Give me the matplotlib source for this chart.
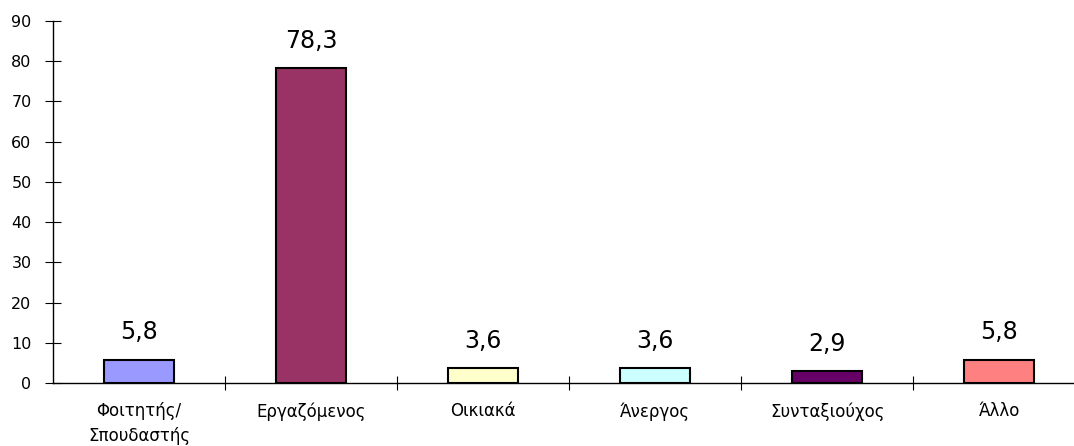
import matplotlib
matplotlib.use('Agg')
import matplotlib.pyplot as plt
import numpy as np

plt.rcParams['font.family'] = ['DejaVu Sans']

categories = ['Φοιτητής/\nΣπουδαστής', 'Εργαζόμενος', 'Οικιακά', 'Άνεργος', 'Συνταξιούχος', 'Άλλο']
values = [5.8, 78.3, 3.6, 3.6, 2.9, 5.8]
value_labels = ['5,8', '78,3', '3,6', '3,6', '2,9', '5,8']
colors = ['#9999FF', '#993366', '#FFFFCC', '#CCFFFF', '#660066', '#FF8080']

fig = plt.figure(figsize=(10.74, 4.46), dpi=100)
ax = fig.add_axes([0.0494, 0.1413, 0.961, 0.812])

x = np.arange(len(categories))
ax.bar(x, values, width=0.41, color=colors, edgecolor='black', linewidth=1.5, zorder=3)

for xi, v, lab in zip(x, values, value_labels):
    ax.annotate(lab, (xi, v), xytext=(0, 11), textcoords='offset points',
                ha='center', va='bottom', fontsize=17)

ax.set_xlim(-0.5, 5.5)
ax.set_ylim(0, 90)
ax.set_yticks(np.arange(0, 91, 10))
ax.tick_params(axis='y', direction='inout', length=11, width=0.8, labelsize=11.5, pad=10)

# ticks on category boundaries, labels centred under the bars
ax.set_xticks(np.arange(0.5, 5.0, 1.0))
ax.set_xticklabels([])
ax.set_xticks(x, minor=True)
ax.set_xticklabels(categories, minor=True, fontsize=12, linespacing=1.5)
ax.tick_params(axis='x', which='major', direction='inout', length=10, width=0.8)
ax.tick_params(axis='x', which='minor', length=0, pad=14)

for s in ['top', 'right']:
    ax.spines[s].set_visible(False)
ax.spines['left'].set_linewidth(1.0)
ax.spines['bottom'].set_linewidth(1.0)

fig.savefig('out.png', dpi=100)
